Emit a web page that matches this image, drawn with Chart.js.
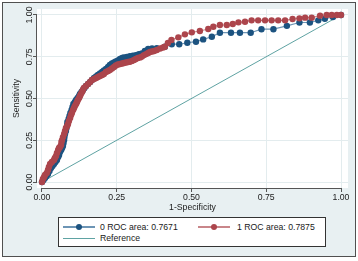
<!DOCTYPE html>
<html><head><meta charset="utf-8">
<script src="https://cdn.jsdelivr.net/npm/chart.js@4/dist/chart.umd.min.js"></script>
<style>
html,body{margin:0;padding:0;background:#fff;width:358px;height:261px;overflow:hidden;}
#frame{position:absolute;left:2px;top:2px;width:352px;height:253px;border:1px solid #505050;background:#e8f0f2;}
#c{position:absolute;left:0;top:0;}
#legend{position:absolute;left:58px;top:217px;width:266px;height:28px;border:1px solid #333;background:#fff;}
.li{position:absolute;font:8.7px "Liberation Sans",Arial,sans-serif;color:#1a1a1a;line-height:10px;white-space:nowrap;}
.sym{position:absolute;}
</style></head><body>
<div id="frame"></div>
<canvas id="c" width="358" height="261"></canvas>
<div id="legend"></div>
<div id="legendItems"></div>
<script>
const tickValues = [0, 0.25, 0.5, 0.75, 1];
const tickLabels = ["0.00", "0.25", "0.50", "0.75", "1.00"];
const xTitle = "1-Specificity";
const yTitle = "Sensitivity";
const seriesLabels = ["0 ROC area: 0.7671", "1 ROC area: 0.7875", "Reference"];

// group 0 (blue): 1-specificity and sensitivity
const group0Spec = [0,.005,.010,.015,.020,.025,.030,.035,.040,.045,.050,.054,.057,.060,.064,.067,.070,.072,.074,.075,.077,.080,.082,.084,.085,.089,.092,.095,.099,.102,.105,.110,.114,.119,.124,.127,.132,.137,.142,.147,.154,.161,.167,.174,.181,.187,.194,.201,.207,.214,.221,.227,.234,.241,.247,.254,.261,.268,.274,.284,.294,.304,.314,.324,.334,.344,.355,.368,.384,.411,.434,.459,.486,.515,.539,.568,.595,.632,.662,.698,.734,.774,.819,.861,.896,.924,.946,.973,1];
const group0Sens = [0,.012,.024,.036,.048,.066,.084,.096,.108,.120,.132,.150,.162,.180,.192,.204,.216,.234,.251,.269,.287,.305,.323,.341,.359,.377,.395,.413,.431,.449,.467,.479,.491,.503,.515,.527,.539,.551,.563,.575,.587,.599,.611,.623,.632,.641,.650,.659,.668,.677,.689,.701,.710,.716,.722,.728,.737,.743,.746,.749,.754,.757,.760,.766,.769,.784,.796,.799,.801,.810,.825,.825,.834,.840,.854,.870,.894,.894,.894,.894,.915,.915,.935,.955,.955,.968,.977,.988,1];

// group 1 (red)
const group1Spec = [0,.003,.007,.010,.016,.020,.023,.027,.033,.040,.043,.047,.050,.054,.057,.060,.064,.065,.067,.070,.074,.077,.080,.084,.087,.090,.094,.097,.100,.104,.107,.110,.114,.117,.120,.124,.127,.130,.134,.137,.140,.147,.154,.161,.167,.174,.181,.187,.194,.201,.207,.214,.221,.227,.234,.241,.247,.254,.261,.268,.274,.281,.288,.294,.301,.308,.314,.321,.328,.334,.341,.348,.355,.361,.368,.375,.384,.395,.405,.411,.421,.433,.456,.478,.501,.528,.556,.573,.595,.618,.638,.657,.679,.701,.723,.746,.768,.790,.813,.838,.861,.880,.902,.930,.952,.969,.986,1];
const group1Sens = [0,.018,.030,.042,.054,.072,.090,.108,.120,.132,.144,.156,.174,.192,.204,.210,.222,.240,.251,.269,.287,.305,.323,.335,.347,.365,.383,.401,.413,.431,.443,.455,.467,.479,.491,.503,.515,.527,.539,.551,.563,.575,.587,.599,.611,.617,.623,.629,.635,.641,.647,.659,.665,.671,.680,.689,.698,.704,.707,.710,.713,.716,.719,.720,.725,.731,.737,.743,.746,.751,.760,.766,.772,.778,.781,.784,.790,.799,.805,.810,.832,.850,.866,.884,.896,.904,.916,.930,.940,.940,.946,.956,.960,.968,.968,.968,.968,.968,.968,.976,.980,.984,.984,.996,1,1,1,1];

// reference line
const refSpec = [0, 1];
const refSens = [0, 1];

const colors = {
  blueMarker: '#1c5380', blueLine: '#6d95b5',
  redMarker: '#ac454c', redLine: '#c9868a',
  ref: '#5fa3a3'
};

function pts(xs, ys) { return xs.map((v, i) => ({x: v, y: ys[i]})); }

Chart.defaults.font.family = '"Liberation Sans", Arial, sans-serif';
Chart.defaults.font.size = 8.7;
Chart.defaults.color = '#1a1a1a';

const framePlugin = {
  id: 'framePlugin',
  beforeDraw(chart) {
    const {ctx, chartArea: a} = chart;
    ctx.save();
    ctx.fillStyle = '#ffffff';
    ctx.fillRect(a.left, a.top, a.right - a.left, a.bottom - a.top);
    ctx.restore();
  },
  beforeDatasetsDraw(chart) {
    const {ctx, chartArea: a, scales: {x, y}} = chart;
    ctx.save();
    ctx.strokeStyle = '#555';
    ctx.lineWidth = 1;
    ctx.beginPath();
    const lx = Math.round(a.left) - 0.5;
    ctx.moveTo(lx, y.getPixelForValue(tickValues[tickValues.length - 1]));
    ctx.lineTo(lx, y.getPixelForValue(tickValues[0]));
    const by = Math.round(a.bottom) + 0.5;
    ctx.moveTo(x.getPixelForValue(tickValues[0]), by);
    ctx.lineTo(x.getPixelForValue(tickValues[tickValues.length - 1]), by);
    ctx.stroke();
    ctx.restore();
  }
};

const chart = new Chart(document.getElementById('c'), {
  type: 'scatter',
  data: {
    datasets: [
      {label: seriesLabels[0], data: pts(group0Spec, group0Sens), showLine: true,
       borderColor: colors.blueLine, borderWidth: 1.2, backgroundColor: colors.blueMarker,
       pointBackgroundColor: colors.blueMarker, pointBorderColor: colors.blueMarker, pointBorderWidth: 0,
       pointRadius: 3.2, order: 1},
      {label: seriesLabels[1], data: pts(group1Spec, group1Sens), showLine: true,
       borderColor: colors.redLine, borderWidth: 1.2, backgroundColor: colors.redMarker,
       pointBackgroundColor: colors.redMarker, pointBorderColor: colors.redMarker, pointBorderWidth: 0,
       pointRadius: 3.2, order: 0},
      {label: seriesLabels[2], data: pts(refSpec, refSens), showLine: true,
       borderColor: colors.ref, borderWidth: 1, pointRadius: 0, order: 2}
    ]
  },
  options: {
    responsive: false, animation: false, devicePixelRatio: 1,
    layout: {padding: {left: 8, top: 9, right: 10, bottom: 45}},
    plugins: {legend: {display: false}, tooltip: {enabled: false}},
    scales: {
      x: {
        type: 'linear', min: -0.01672, max: 1.02341,
        afterBuildTicks: s => { s.ticks = tickValues.map(v => ({value: v})); },
        afterFit: s => { s.height = 28; },
        ticks: {callback: (v, i) => tickLabels[i], padding: 0, maxRotation: 0, minRotation: 0, color: '#1a1a1a'},
        grid: {color: '#e3ecee', lineWidth: 1, drawTicks: true, tickLength: 4, tickColor: '#555', tickWidth: 1},
        border: {display: false},
        title: {display: true, text: xTitle, padding: {top: 0, bottom: 2.8}, color: '#1a1a1a'}
      },
      y: {
        type: 'linear', min: -0.0359, max: 1.0359,
        afterBuildTicks: s => { s.ticks = tickValues.map(v => ({value: v})); },
        afterFit: s => { s.width = 29; },
        ticks: {callback: (v, i) => tickLabels[i], padding: -5, minRotation: 90, maxRotation: 90, crossAlign: 'center', color: '#1a1a1a'},
        grid: {color: '#e3ecee', lineWidth: 1, drawTicks: true, tickLength: 4, tickColor: '#555', tickWidth: 1},
        border: {display: false},
        title: {display: true, text: yTitle, padding: {top: 3.8, bottom: 0}, color: '#1a1a1a'}
      }
    }
  },
  plugins: [framePlugin]
});

// HTML legend built from the chart's datasets
(function buildLegend() {
  const host = document.getElementById('legendItems');
  const ds = chart.data.datasets;
  const slots = [
    {sx: 63, tx: 100, cy: 227},
    {sx: 198, tx: 237, cy: 227},
    {sx: 63, tx: 100, cy: 238}
  ];
  ds.forEach((d, i) => {
    const s = slots[i];
    const hasMarker = d.pointRadius > 0;
    const lw = hasMarker ? 2 : 1;
    const line = document.createElement('div');
    line.className = 'sym';
    line.style.cssText = `left:${s.sx}px;top:${s.cy - lw / 2}px;width:32px;height:${lw}px;background:${d.borderColor};`;
    host.appendChild(line);
    if (hasMarker) {
      const dot = document.createElement('div');
      dot.className = 'sym';
      dot.style.cssText = `left:${s.sx + 16 - 3}px;top:${s.cy - 3}px;width:6px;height:6px;border-radius:50%;background:${d.pointBackgroundColor};`;
      host.appendChild(dot);
    }
    const t = document.createElement('div');
    t.className = 'li';
    t.style.left = s.tx + 'px';
    t.style.top = (s.cy - 5) + 'px';
    t.textContent = d.label;
    host.appendChild(t);
  });
})();
</script>
</body></html>
